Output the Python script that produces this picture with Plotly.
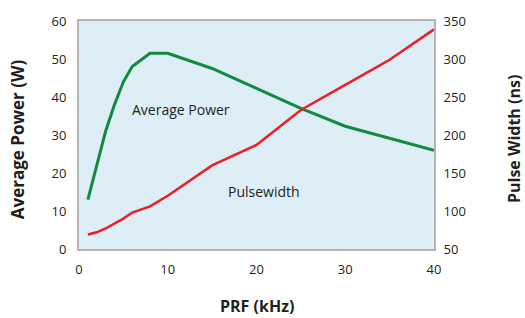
import plotly.graph_objects as go

prf_khz = [1, 2, 3, 4, 5, 6, 8, 10, 15, 20, 25, 30, 35, 40]
avg_power_w = [13, 22, 31, 38, 44, 48, 51.5, 51.5, 47.5, 42.3, 37, 32.3, 29.2, 26]
pulsewidth_ns = [69, 72, 77, 83, 90, 98, 106, 120, 160, 187, 233, 266, 299, 339]

x_ticks = [0, 10, 20, 30, 40]
y1_ticks = [0, 10, 20, 30, 40, 50, 60]
y2_ticks = [50, 100, 150, 200, 250, 300, 350]

FONT = "Open Sans"
fig = go.Figure()
fig.add_trace(go.Scatter(x=prf_khz, y=avg_power_w, mode="lines",
                         line=dict(color="#138a43", width=3), yaxis="y"))
fig.add_trace(go.Scatter(x=prf_khz, y=pulsewidth_ns, mode="lines",
                         line=dict(color="#ee1c25", width=2.5), yaxis="y2"))

fig.update_layout(
    width=525, height=318,
    margin=dict(l=79, r=91, t=15, b=69),
    paper_bgcolor="white",
    plot_bgcolor="#ddeef6",
    showlegend=False,
    font=dict(family=FONT, size=13, color="#231f20"),
    xaxis=dict(range=[0, 40], tickvals=x_ticks, showgrid=False, zeroline=False,
               showline=True, linecolor="#b5b5b5", linewidth=2, mirror=True,
               ticks="outside", ticklen=7, tickcolor="rgba(0,0,0,0)"),
    yaxis=dict(range=[0, 60], tickvals=y1_ticks, showgrid=False, zeroline=False,
               showline=True, linecolor="#b5b5b5", linewidth=2, mirror=True,
               ticks="outside", ticklen=8, tickcolor="rgba(0,0,0,0)"),
    yaxis2=dict(range=[50, 350], tickvals=y2_ticks, overlaying="y", side="right",
                showgrid=False, zeroline=False, showline=False,
                ticks="outside", ticklen=6, tickcolor="rgba(0,0,0,0)"),
    annotations=[
        dict(text="Average Power", x=11.47, y=36.7, xref="x", yref="y", showarrow=False,
             font=dict(size=14, family=FONT, color="#231f20")),
        dict(text="Pulsewidth", x=20.8, y=15.1, xref="x", yref="y", showarrow=False,
             font=dict(size=14, family=FONT, color="#231f20")),
        dict(text="<b>Average Power (W)</b>", x=-0.175, y=0.481, xref="paper", yref="paper",
             xanchor="center", yanchor="middle",
             textangle=-90, showarrow=False, font=dict(size=17, family=FONT, color="#231f20")),
        dict(text="<b>Pulse Width (ns)</b>", x=1.2274, y=0.481, xref="paper", yref="paper",
             xanchor="center", yanchor="middle", borderpad=0,
             textangle=-90, showarrow=False, font=dict(size=16, family=FONT, color="#231f20")),
        dict(text="<b>PRF (kHz)</b>", x=0.5, y=-0.252, xref="paper", yref="paper",
             xanchor="center", yanchor="middle",
             showarrow=False, font=dict(size=16, family=FONT, color="#231f20")),
    ],
)

fig.write_html("out.html", config={"displayModeBar": False},
               post_script="document.body.style.margin='0';document.body.style.overflow='hidden';")
